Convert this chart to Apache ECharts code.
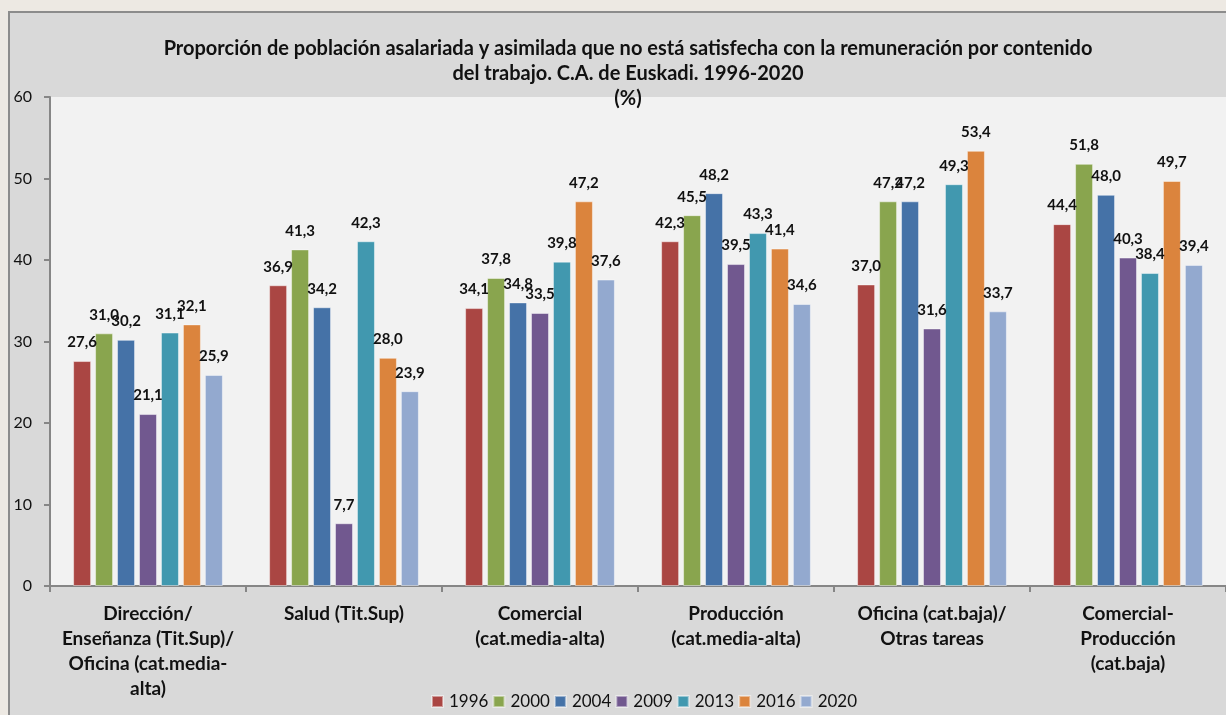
<!DOCTYPE html>
<html>
<head>
<meta charset="utf-8">
<script src="https://cdn.jsdelivr.net/npm/echarts@6/dist/echarts.min.js"></script>
<style>
html,body{margin:0;padding:0;background:#ede9e3;}
#chart{width:1226px;height:715px;}
</style>
</head>
<body>
<div id="chart"></div>
<script>
const categories = [
  "Dirección/\nEnseñanza (Tit.Sup)/\nOficina (cat.media-\nalta)",
  "Salud (Tit.Sup)",
  "Comercial\n(cat.media-alta)",
  "Producción\n(cat.media-alta)",
  "Oficina (cat.baja)/\nOtras tareas",
  "Comercial-\nProducción\n(cat.baja)"
];
const years = ["1996","2000","2004","2009","2013","2016","2020"];
const s1996 = [27.6, 36.9, 34.1, 42.3, 37.0, 44.4];
const s2000 = [31.0, 41.3, 37.8, 45.5, 47.2, 51.8];
const s2004 = [30.2, 34.2, 34.8, 48.2, 47.2, 48.0];
const s2009 = [21.1, 7.7, 33.5, 39.5, 31.6, 40.3];
const s2013 = [31.1, 42.3, 39.8, 43.3, 49.3, 38.4];
const s2016 = [32.1, 28.0, 47.2, 41.4, 53.4, 49.7];
const s2020 = [25.9, 23.9, 37.6, 34.6, 33.7, 39.4];
const seriesValues = [s1996, s2000, s2004, s2009, s2013, s2016, s2020];
const colors = ["#AA4643","#89A54E","#4572A7","#71588F","#4198AF","#DB843D","#93A9CF"];
const yTicks = {min:0, max:60, interval:10};

const font = "Lato, 'Open Sans', sans-serif";
const chart = echarts.init(document.getElementById('chart'));
chart.setOption({
  backgroundColor: '#ede9e3',
  animation: false,
  color: colors,
  graphic: [{
    type: 'rect', z: -10, silent: true,
    shape: {x: 9, y: 12, width: 1240, height: 720},
    style: {fill: '#d9d9d9', stroke: '#8c8c8c', lineWidth: 2}
  }],
  title: {
    text: 'Proporción de población asalariada y asimilada que no está satisfecha con la remuneración por contenido\ndel trabajo. C.A. de Euskadi. 1996-2020\n(%)',
    left: 623, top: 31, textAlign: 'center',
    textStyle: {fontFamily: font, fontSize: 20, fontWeight: 'bold', color: '#111', lineHeight: 25}
  },
  legend: {
    data: years, left: 426, top: 688,
    itemWidth: 11, itemHeight: 11, itemGap: 4,
    icon: 'rect',
    textStyle: {fontFamily: font, fontSize: 17, color: '#111', padding: [0,0,0,1]}
  },
  grid: {left: 50, top: 97, width: 1180, height: 489, show: true, backgroundColor: '#f2f2f2', borderWidth: 0, containLabel: false},
  xAxis: {
    type: 'category', data: categories,
    axisLine: {show: true, lineStyle: {color: '#868686', width: 2}},
    axisTick: {show: true, length: 6, interval: 0, lineStyle: {color: '#868686', width: 2}},
    axisLabel: {interval: 0, margin: 15, fontFamily: font, fontSize: 19, fontWeight: 'bold', color: '#111', lineHeight: 25},
    splitLine: {show: false}
  },
  yAxis: {
    type: 'value', min: yTicks.min, max: yTicks.max, interval: yTicks.interval,
    axisLine: {show: true, lineStyle: {color: '#868686', width: 2}},
    axisTick: {show: true, length: 6, lineStyle: {color: '#868686', width: 2}},
    axisLabel: {margin: 18, fontFamily: font, fontSize: 16, color: '#111'},
    splitLine: {show: false}
  },
  series: years.map((y, i) => ({
    name: y, type: 'bar', data: seriesValues[i],
    barWidth: 18, barGap: '22%',
    itemStyle: {color: colors[i], borderColor: 'rgba(255,255,255,0.45)', borderWidth: 1},
    label: {
      show: true, position: 'top', distance: 11,
      fontFamily: font, fontSize: 15, fontWeight: 'bold', color: '#111',
      formatter: p => p.value.toFixed(1).replace('.', ',')
    }
  }))
});
</script>
</body>
</html>
